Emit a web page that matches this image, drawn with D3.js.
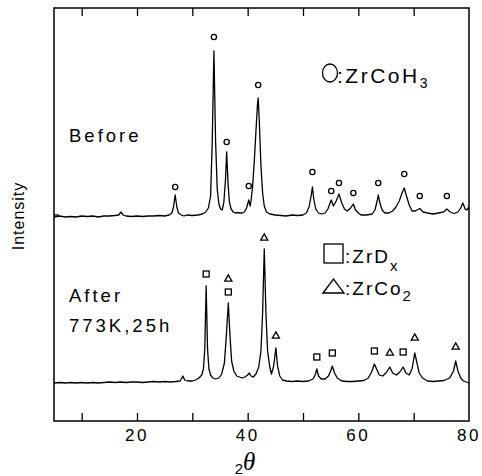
<!DOCTYPE html>
<html>
<head>
<meta charset="utf-8">
<script src="https://cdn.jsdelivr.net/npm/d3@7"></script>
<style>
  body { margin: 0; background: #fff; }
  svg { display: block; }
  text { font-family: "Liberation Sans", Arial, Helvetica, sans-serif; fill: #000; }
</style>
</head>
<body>
<svg class="chart"></svg>
<script>
// XRD pattern, 2theta in degrees, intensity in arbitrary units
const beforeAngle = [5, 6, 7, 8, 9, 10, 11, 12, 13, 14, 15, 16, 16.7, 17.1, 17.5, 18, 19, 20, 21, 22, 23, 24, 25, 25.8,
  26.3, 26.6, 26.9, 27.2, 27.5, 28, 28.5, 29, 30, 31, 31.8, 32.4, 32.9, 33.3, 33.6, 33.9, 34.2, 34.5, 34.8, 35.1,
  35.4, 35.7, 36.0, 36.2, 36.45, 36.7, 37.0, 37.4, 37.8, 38.2, 38.6, 39.0, 39.4, 39.8, 40.2, 40.45, 40.6, 40.9, 41.2,
  41.5, 41.75, 41.9, 42.1, 42.4, 42.7, 43.0, 43.4, 44, 45, 46, 47, 48, 49, 50, 50.6, 51.1, 51.5, 51.7, 51.95, 52.3,
  52.8, 53.4, 54.0, 54.5, 55.1, 55.5, 56.0, 56.5, 57.0, 57.5, 58.0, 58.6, 59.1, 59.5, 60.0, 60.5, 61.5, 62.5, 63.0,
  63.4, 63.6, 63.9, 64.3, 64.8, 65.5, 66.2, 66.8, 67.4, 67.9, 68.3, 68.7, 69.2, 69.7, 70.3, 71.1, 71.7, 72.5, 73.5,
  74.5, 75.4, 76.0, 76.6, 77.3, 78.0, 78.5, 78.9, 79.3, 79.6, 80];
const beforeCounts = [204, 205, 204, 204.5, 204, 205, 204.5, 205, 204, 205, 205, 205.5, 206, 209, 206, 205, 204.5, 205, 204.5, 205, 205, 205.5, 205, 206,
  208, 214, 226, 214, 208, 206, 205, 206, 205.5, 206, 207, 209, 213, 225, 280, 370, 280, 232, 217, 212,
  211, 219, 242, 269, 238, 219, 212, 209, 208, 208.5, 208, 208, 209, 213, 221, 215, 220, 235, 260,
  290, 315, 323, 300, 255, 228, 215, 209, 207, 206, 205.5, 205, 206, 205.5, 206, 208, 214, 226, 234, 222, 212,
  208, 207, 208, 212, 221, 215, 220, 227, 218, 212, 210, 213, 217, 211, 208, 206, 206, 207, 211,
  220, 226, 218, 211, 208, 208, 210, 214, 220, 228, 233, 225, 216, 210, 210, 212.5, 209, 208, 207,
  208, 209, 212, 209, 207.5, 209, 213, 218, 212, 211, 214];

const afterAngle = [5, 6, 7, 8, 9, 10, 11, 12, 13, 14, 15, 16, 17, 18, 19, 20, 21, 22, 23, 24, 25, 26, 27, 27.8, 28.3,
  28.6, 29.2, 30.0, 30.6, 31.2, 31.7, 32.0, 32.25, 32.5, 32.75, 33.0, 33.3, 33.7, 34.2, 34.8, 35.3, 35.8, 36.2,
  36.5, 36.8, 37.1, 37.5, 38.0, 38.5, 39.0, 39.5, 40.0, 40.3, 40.6, 41.0, 41.5, 42.0, 42.4, 42.7, 43.0, 43.3, 43.6,
  44.0, 44.3, 44.7, 45.1, 45.4, 45.8, 46.3, 47, 48, 49, 50, 51, 51.8, 52.2, 52.5, 52.8, 53.3, 54.0, 54.6, 55.0,
  55.3, 55.7, 56.2, 57, 58, 59, 60, 61, 61.8, 62.4, 62.9, 63.3, 63.8, 64.4, 65.0, 65.7, 66.2, 66.9, 67.5, 68.1,
  68.6, 69.2, 69.7, 70.2, 70.6, 71.0, 71.6, 72.5, 73.5, 74.5, 75.5, 76.5, 77.2, 77.6, 78.0, 78.5, 79, 79.5, 80];
const afterCounts = [38, 38.5, 38, 38.5, 38, 38.5, 38, 38.5, 38, 38.5, 39, 38.5, 39, 38.5, 39, 39, 38.5, 39, 39.5, 39, 39.5, 39, 39.5, 40, 45,
  41, 40, 40, 41, 43, 46, 52, 72, 135, 72, 52, 46, 43, 42, 43, 47, 58, 90,
  118, 86, 60, 50, 45, 44, 43, 44, 46, 48, 45, 44, 47, 54, 70, 108, 172, 108, 70,
  54, 47, 55, 73, 55, 45, 41, 40, 39.5, 40, 39.5, 40, 42, 46, 52, 45, 42, 42, 45, 50,
  55, 48, 43, 40, 39.5, 39.5, 40, 40.5, 43, 49, 57, 52, 46, 45, 48, 54, 48, 46, 49, 54,
  48, 46, 52, 68, 58, 48, 43, 40, 39.5, 40, 40.5, 43, 50, 60, 50, 43, 40, 39, 38];

// peak markers: [2theta, height of marker]
const zrCoH3Peaks = [[26.9, 234], [33.9, 384], [36.2, 279], [40.2, 235], [41.9, 336], [51.7, 249], [55.1, 230],
  [56.5, 238], [59.1, 228], [63.6, 238], [68.3, 247], [71.1, 225], [76.0, 225]];
const zrDxPeaks = [[32.5, 147], [36.5, 129], [52.5, 64], [55.3, 68], [62.9, 70], [68.1, 69]];
const zrCo2Peaks = [[36.5, 142], [43.0, 183], [45.1, 85], [65.7, 68], [70.2, 83], [77.6, 74]];

const xTicks = [10, 20, 30, 40, 50, 60, 70];
const xTickLabels = [20, 40, 60, 80];

let width = 482, height = 476;
let plotLeft = 54, plotRight = 469, plotTop = 8, plotBottom = 421;

let svg = d3.select(".chart")
  .attr("width", width)
  .attr("height", height);

let x = d3.scaleLinear().domain([5, 80]).range([plotLeft, plotRight]);
let y = d3.scaleLinear().domain([0, plotBottom - plotTop]).range([plotBottom, plotTop]);

let line = d3.line()
  .x(function(d) { return x(d[0]); })
  .y(function(d) { return y(d[1]); });

let beforeData = beforeAngle.map(function(a, i) { return [a, beforeCounts[i]]; });
let afterData = afterAngle.map(function(a, i) { return [a, afterCounts[i]]; });

svg.append("path")
  .datum(beforeData)
  .attr("fill", "none")
  .attr("stroke", "#000")
  .attr("stroke-width", 1.3)
  .attr("stroke-linejoin", "round")
  .attr("d", line);

svg.append("path")
  .datum(afterData)
  .attr("fill", "none")
  .attr("stroke", "#000")
  .attr("stroke-width", 1.3)
  .attr("stroke-linejoin", "round")
  .attr("d", line);

// frame
svg.append("rect")
  .attr("x", plotLeft).attr("y", plotTop)
  .attr("width", plotRight - plotLeft).attr("height", plotBottom - plotTop)
  .attr("fill", "none")
  .attr("stroke", "#000")
  .attr("stroke-width", 1.5);

// inward ticks, bottom and top
svg.append("g")
  .attr("transform", "translate(0," + plotBottom + ")")
  .call(d3.axisTop(x).tickValues(xTicks).tickSize(8).tickFormat(""))
  .call(function(g) { g.select(".domain").remove(); })
  .selectAll("line").attr("stroke-width", 1.3);

svg.append("g")
  .attr("transform", "translate(0," + plotTop + ")")
  .call(d3.axisBottom(x).tickValues(xTicks).tickSize(8).tickFormat(""))
  .call(function(g) { g.select(".domain").remove(); })
  .selectAll("line").attr("stroke-width", 1.3);

svg.append("line")
  .attr("x1", plotLeft).attr("x2", plotLeft + 5)
  .attr("y1", 215).attr("y2", 215)
  .attr("stroke", "#000").attr("stroke-width", 1.3);

// tick labels
svg.selectAll(".xlabel")
  .data(xTickLabels)
  .enter().append("text")
  .attr("class", "xlabel")
  .attr("x", function(d) { return x(d); })
  .attr("y", 441)
  .attr("text-anchor", "middle")
  .attr("font-size", 17)
  .attr("letter-spacing", 2.5)
  .text(function(d) { return d; });

// axis titles
let xt = svg.append("text")
  .attr("x", 245).attr("y", 474)
  .attr("text-anchor", "middle");
xt.append("tspan").attr("font-size", 15).attr("dy", 0).text("2");
xt.append("tspan").attr("font-size", 25).attr("font-style", "italic").attr("dy", -4).attr("font-family", "'Liberation Serif', serif").text("θ");

svg.append("text")
  .attr("transform", "translate(24,216) rotate(-90)")
  .attr("text-anchor", "middle")
  .attr("font-size", 16)
  .attr("letter-spacing", 1)
  .text("Intensity");

// peak markers
svg.selectAll(".circ")
  .data(zrCoH3Peaks)
  .enter().append("circle")
  .attr("class", "circ")
  .attr("cx", function(d) { return x(d[0]); })
  .attr("cy", function(d) { return y(d[1]); })
  .attr("r", 2.6)
  .attr("fill", "none")
  .attr("stroke", "#000")
  .attr("stroke-width", 1.3);

svg.selectAll(".sq")
  .data(zrDxPeaks)
  .enter().append("rect")
  .attr("class", "sq")
  .attr("x", function(d) { return x(d[0]) - 3; })
  .attr("y", function(d) { return y(d[1]) - 3; })
  .attr("width", 6).attr("height", 6)
  .attr("fill", "none")
  .attr("stroke", "#000")
  .attr("stroke-width", 1.3);

let tri = d3.symbol().type(d3.symbolTriangle).size(22);
svg.selectAll(".tri")
  .data(zrCo2Peaks)
  .enter().append("path")
  .attr("class", "tri")
  .attr("transform", function(d) { return "translate(" + x(d[0]) + "," + y(d[1]) + ")"; })
  .attr("d", tri)
  .attr("fill", "none")
  .attr("stroke", "#000")
  .attr("stroke-width", 1.3);

// sample labels
svg.append("text").attr("x", 69).attr("y", 142).attr("font-size", 18.5).attr("letter-spacing", 3).text("Before");
svg.append("text").attr("x", 69).attr("y", 302).attr("font-size", 18.5).attr("letter-spacing", 3).text("After");
svg.append("text").attr("x", 69).attr("y", 332).attr("font-size", 18.5).attr("letter-spacing", 3).text("773K,25h");

// legends
svg.append("ellipse")
  .attr("cx", 330).attr("cy", 73).attr("rx", 7.5).attr("ry", 9)
  .attr("fill", "none").attr("stroke", "#000").attr("stroke-width", 1.3);
let l1 = svg.append("text").attr("x", 337).attr("y", 83).attr("font-size", 21).attr("letter-spacing", 2.5);
l1.append("tspan").text(":ZrCoH");
l1.append("tspan").attr("font-size", 14).attr("dy", 5).text("3");

svg.append("rect")
  .attr("x", 324).attr("y", 244).attr("width", 19).attr("height", 19)
  .attr("fill", "none").attr("stroke", "#000").attr("stroke-width", 1.3);
let l2 = svg.append("text").attr("x", 345).attr("y", 263).attr("font-size", 19).attr("letter-spacing", 2);
l2.append("tspan").text(":ZrD");
l2.append("tspan").attr("font-size", 15).attr("dy", 8).text("x");

svg.append("path")
  .attr("d", "M323,293 L333.5,279 L344,293 Z")
  .attr("fill", "none").attr("stroke", "#000").attr("stroke-width", 1.3);
let l3 = svg.append("text").attr("x", 345).attr("y", 295).attr("font-size", 19).attr("letter-spacing", 2);
l3.append("tspan").text(":ZrCo");
l3.append("tspan").attr("font-size", 15).attr("dy", 6).text("2");
</script>
</body>
</html>
